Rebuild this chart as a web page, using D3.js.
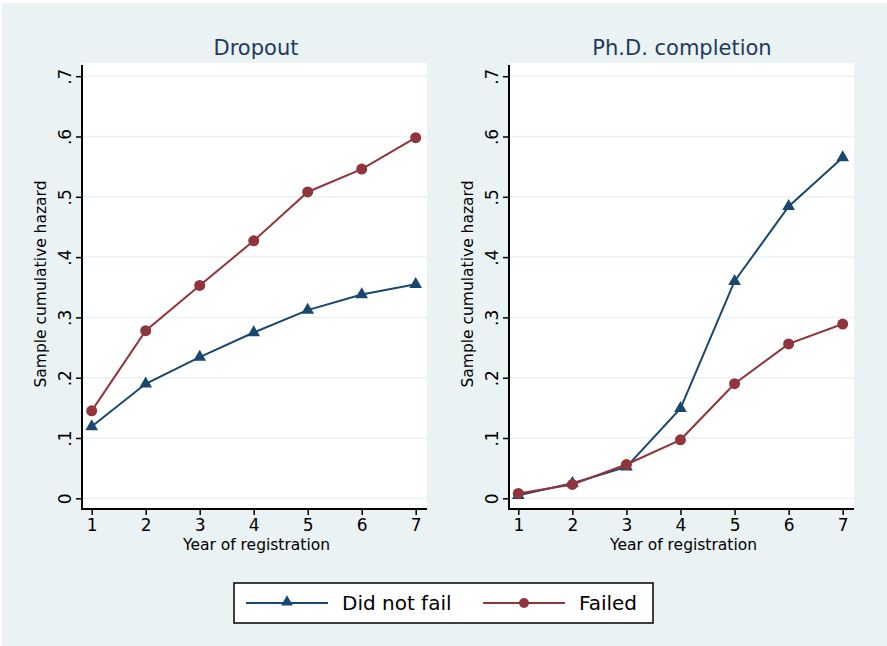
<!DOCTYPE html>
<html>
<head>
<meta charset="utf-8">
<style>
body { margin: 0; background: #fff; }
text { font-family: "DejaVu Sans", sans-serif; }
</style>
</head>
<body>
<script src="https://cdn.jsdelivr.net/npm/d3@7/dist/d3.min.js"></script>
<script>
// data
const years = [1, 2, 3, 4, 5, 6, 7];
const panels = ["Dropout", "Ph.D. completion"];
const seriesNames = ["Did not fail", "Failed"];
const dropoutNotFail = [0.119, 0.190, 0.234, 0.275, 0.312, 0.338, 0.355];
const dropoutFailed = [0.145, 0.278, 0.353, 0.427, 0.508, 0.546, 0.598];
const phdNotFail = [0.005, 0.025, 0.052, 0.149, 0.360, 0.484, 0.565];
const phdFailed = [0.008, 0.023, 0.056, 0.097, 0.190, 0.256, 0.289];
const yTicks = [0, 0.1, 0.2, 0.3, 0.4, 0.5, 0.6, 0.7];
const yTickLabels = ["0", ".1", ".2", ".3", ".4", ".5", ".6", ".7"];

const W = 887, H = 646;
const blue = "#1a476f", red = "#90353b";
const bg = "#eaf2f3";

const svg = d3.select("body").append("svg")
    .attr("width", W).attr("height", H);

svg.append("rect")
    .attr("x", 2).attr("y", 3)
    .attr("width", W - 2).attr("height", H - 3)
    .attr("fill", bg);

// panel layout: left edge of y axis, right edge of plot
const panelBox = [
    {x0: 82, x1: 427, tickX0: 91.7, tickX1: 415.7, title: 256},
    {x0: 509, x1: 854, tickX0: 518.3, tickX1: 842.7, title: 682}
];
const plotTop = 63, plotBottom = 509;

const y = d3.scaleLinear().domain([0, 0.7]).range([498.3, 76.2]);

const panelData = [
    [dropoutNotFail, dropoutFailed],
    [phdNotFail, phdFailed]
];

panelBox.forEach((p, pi) => {
    const x = d3.scaleLinear().domain([1, 7]).range([p.tickX0, p.tickX1]);
    const g = svg.append("g");

    g.append("rect")
        .attr("x", p.x0).attr("y", plotTop)
        .attr("width", p.x1 - p.x0).attr("height", plotBottom - plotTop)
        .attr("fill", "#fff");

    // gridlines
    g.selectAll(".grid").data(yTicks).enter()
        .append("line")
        .attr("x1", p.x0).attr("x2", p.x1)
        .attr("y1", d => y(d)).attr("y2", d => y(d))
        .attr("stroke", bg).attr("stroke-width", 1.5);

    // y axis
    const yAxis = g.append("g")
        .attr("transform", `translate(${p.x0},0)`)
        .call(d3.axisLeft(y).tickValues(yTicks)
            .tickFormat((d, i) => yTickLabels[i]).tickSize(6));
    yAxis.select(".domain").remove();
    yAxis.append("line")
        .attr("x1", 0).attr("x2", 0)
        .attr("y1", plotTop + 2).attr("y2", plotBottom + 1)
        .attr("stroke", "#000").attr("stroke-width", 2);
    yAxis.selectAll(".tick line").attr("stroke", "#000").attr("stroke-width", 1.5);
    // rotated tick labels
    yAxis.selectAll(".tick text")
        .attr("font-size", 17).attr("fill", "#000")
        .attr("text-anchor", "middle")
        .attr("dy", 0)
        .attr("transform", "rotate(-90)")
        .attr("x", 0).attr("y", -11);

    // x axis
    const xAxis = g.append("g")
        .attr("transform", `translate(0,${plotBottom})`)
        .call(d3.axisBottom(x).tickValues(years).tickFormat(d3.format("d"))
            .tickSize(6).tickPadding(4));
    xAxis.select(".domain").remove();
    xAxis.append("line")
        .attr("x1", p.x0 - 1).attr("x2", p.x1)
        .attr("y1", 0).attr("y2", 0)
        .attr("stroke", "#000").attr("stroke-width", 2);
    xAxis.selectAll(".tick line").attr("stroke", "#000").attr("stroke-width", 1.5);
    xAxis.selectAll(".tick text").attr("font-size", 17).attr("fill", "#000");

    g.append("text")
        .attr("x", (p.x0 + p.x1) / 2 + 2).attr("y", 550)
        .attr("text-anchor", "middle")
        .attr("font-size", 15.5)
        .text("Year of registration");

    g.append("text")
        .attr("transform", `translate(${p.x0 - 36},${(plotTop + plotBottom) / 2 - 2}) rotate(-90)`)
        .attr("text-anchor", "middle")
        .attr("font-size", 15.5)
        .text("Sample cumulative hazard");

    g.append("text")
        .attr("x", p.title).attr("y", 55)
        .attr("text-anchor", "middle")
        .attr("font-size", 21)
        .attr("fill", "#1e3a5f")
        .text(panels[pi]);

    const line = d3.line().x((d, i) => x(years[i])).y(d => y(d));
    const cols = [blue, red];

    panelData[pi].forEach((vals, si) => {
        g.append("path")
            .datum(vals)
            .attr("fill", "none")
            .attr("stroke", cols[si])
            .attr("stroke-width", 2)
            .attr("d", line);
        if (si === 0) {
            g.selectAll(".tri" + pi).data(vals).enter()
                .append("path")
                .attr("d", d3.symbol(d3.symbolTriangle, 70)())
                .attr("transform", (d, i) => `translate(${x(years[i])},${y(d)})`)
                .attr("fill", cols[si]);
        } else {
            g.selectAll(".dot" + pi).data(vals).enter()
                .append("circle")
                .attr("cx", (d, i) => x(years[i]))
                .attr("cy", d => y(d))
                .attr("r", 5.5)
                .attr("fill", cols[si]);
        }
    });
});

// legend
const lg = svg.append("g");
lg.append("rect")
    .attr("x", 234).attr("y", 583)
    .attr("width", 419).attr("height", 40)
    .attr("fill", "#fff").attr("stroke", "#000").attr("stroke-width", 1.5);

const legendItems = [
    {x0: 246, x1: 328, tx: 342, col: blue, sym: "tri"},
    {x0: 483, x1: 565, tx: 579, col: red, sym: "dot"}
];
legendItems.forEach((it, i) => {
    lg.append("line")
        .attr("x1", it.x0).attr("x2", it.x1)
        .attr("y1", 603).attr("y2", 603)
        .attr("stroke", it.col).attr("stroke-width", 2);
    const cx = (it.x0 + it.x1) / 2;
    if (it.sym === "tri") {
        lg.append("path")
            .attr("d", d3.symbol(d3.symbolTriangle, 60)())
            .attr("transform", `translate(${cx},602)`)
            .attr("fill", it.col);
    } else {
        lg.append("circle")
            .attr("cx", cx).attr("cy", 603).attr("r", 5)
            .attr("fill", it.col);
    }
    lg.append("text")
        .attr("x", it.tx).attr("y", 610)
        .attr("font-size", 20)
        .text(seriesNames[i]);
});
</script>
</body>
</html>
